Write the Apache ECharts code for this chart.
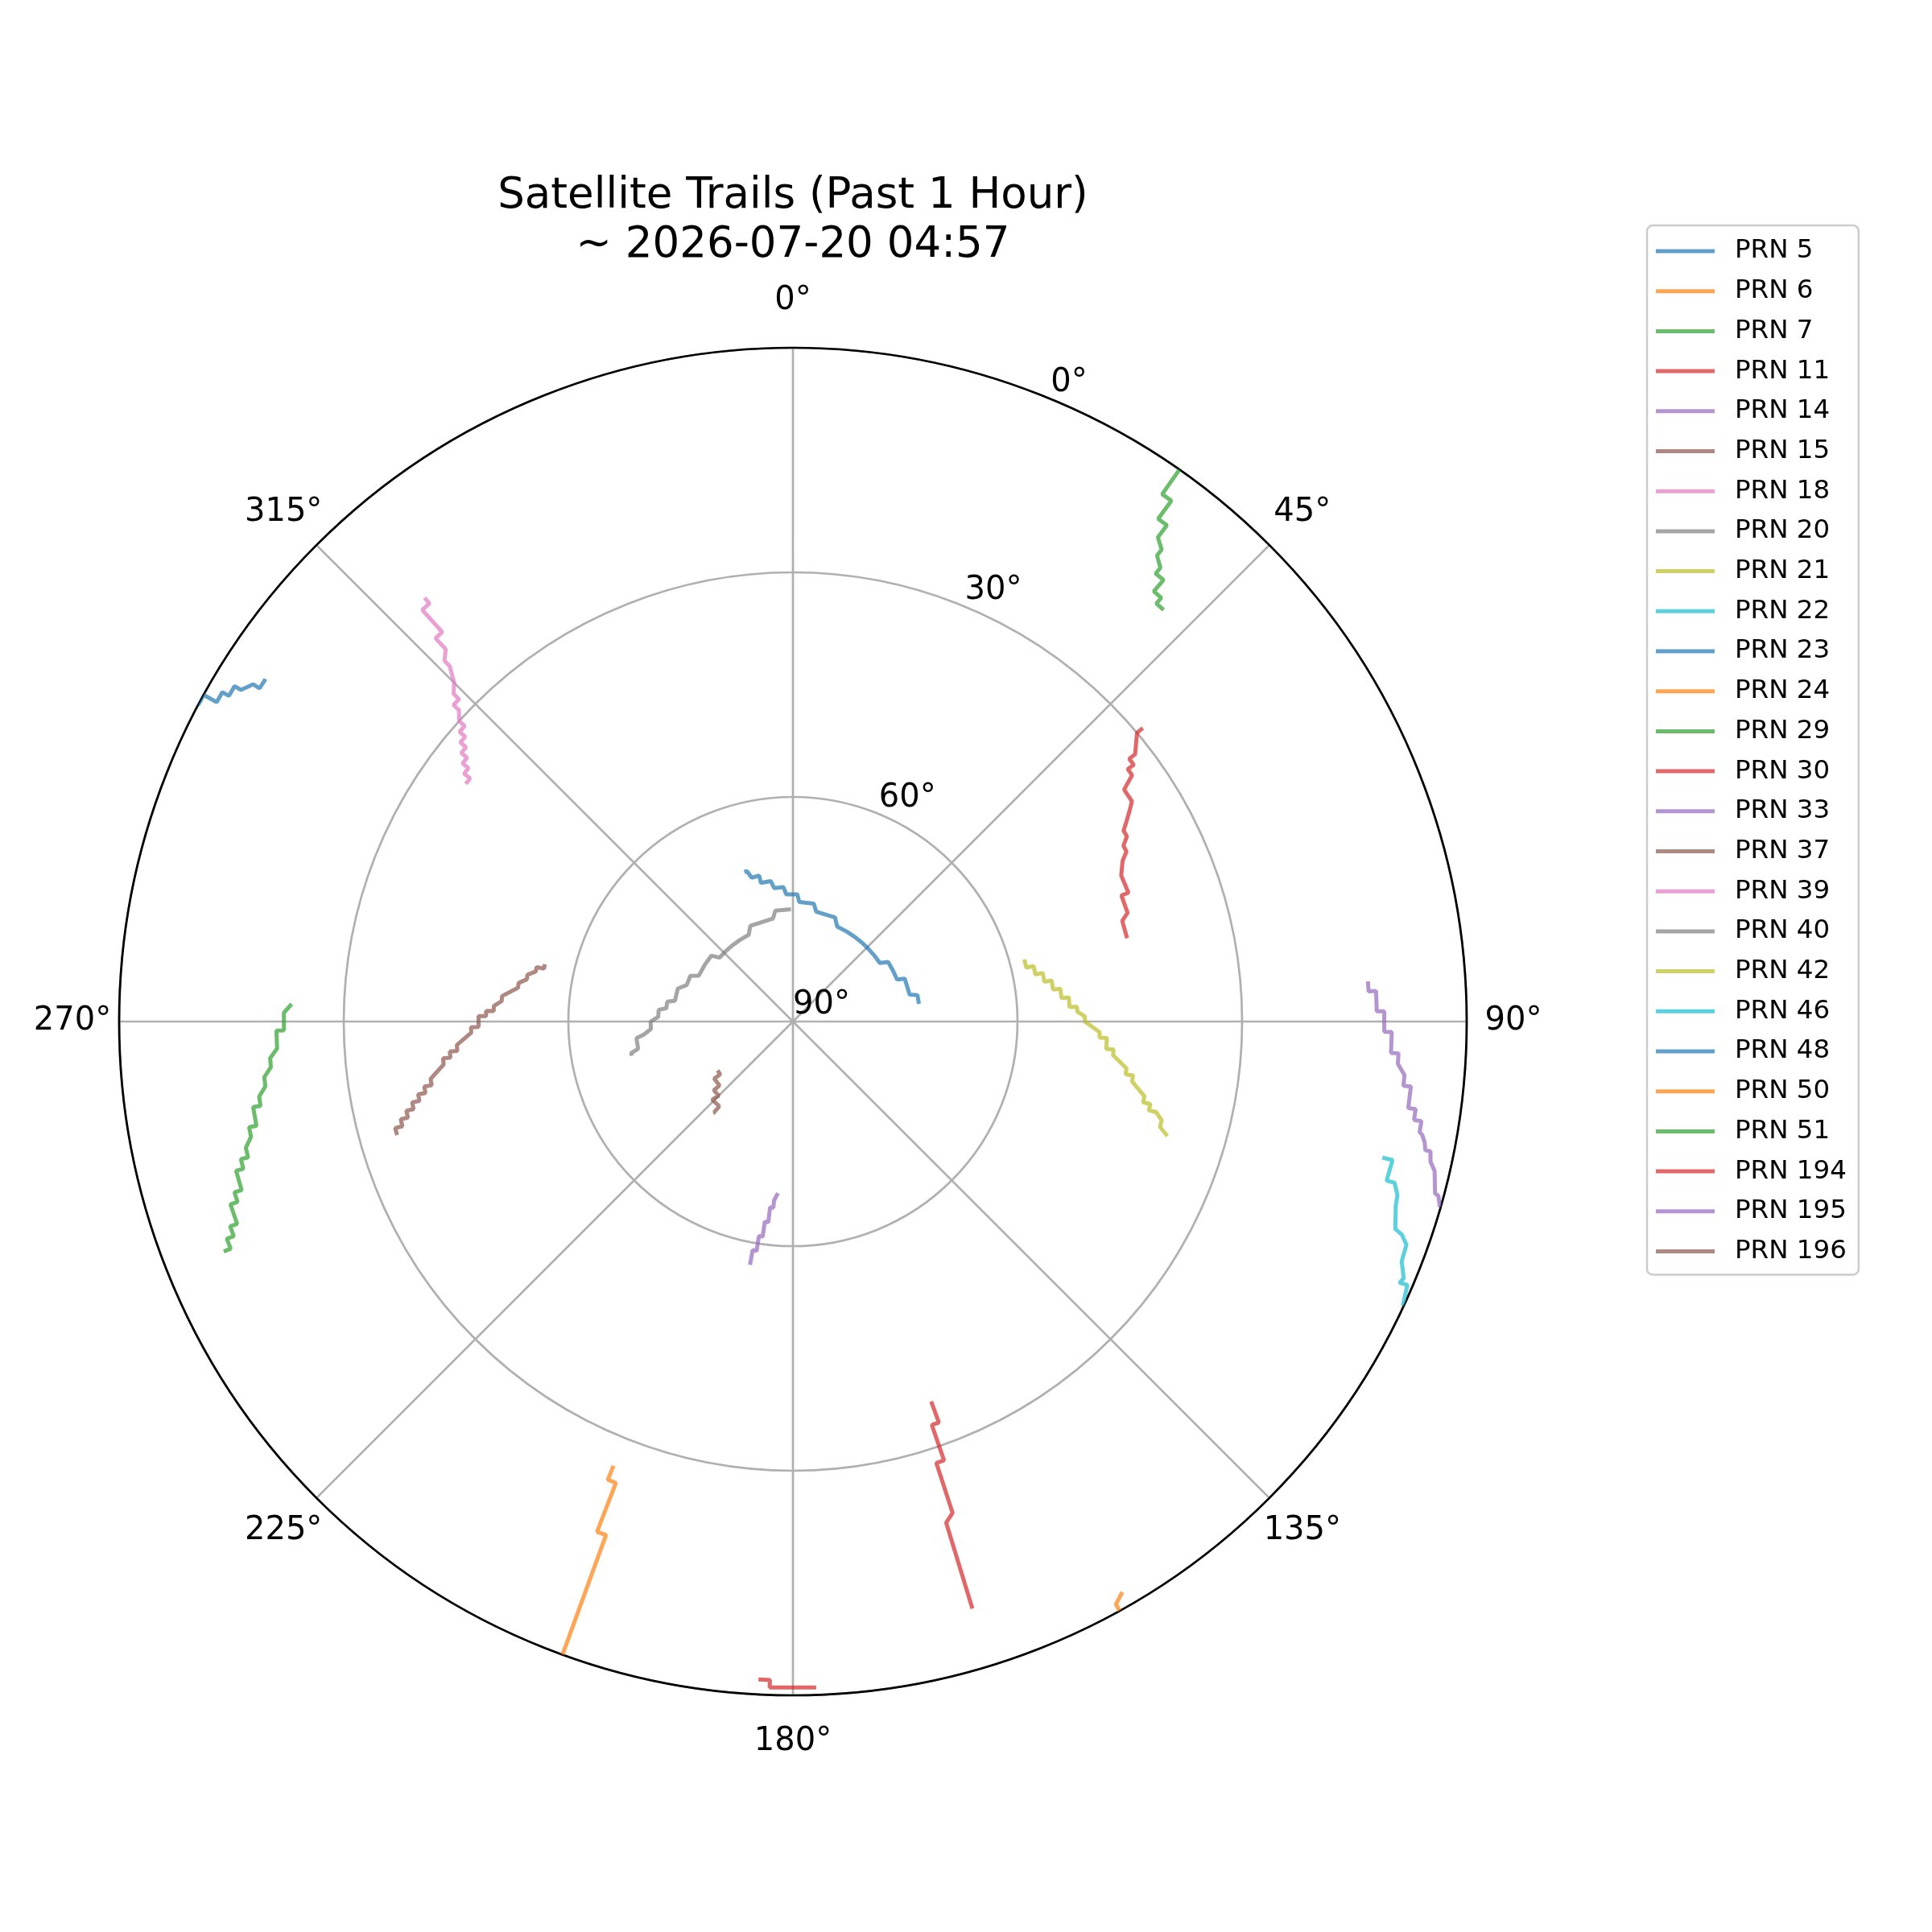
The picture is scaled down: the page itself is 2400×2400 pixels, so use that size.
<!DOCTYPE html>
<html><head><meta charset="utf-8">
<script src="https://cdn.jsdelivr.net/npm/echarts@6/dist/echarts.min.js"></script>
<style>html,body{margin:0;padding:0;background:#fff}#c{width:2400px;height:2400px}</style>
</head><body><div id="c"></div>
<script>
// ---- data: each trail is a list of [azimuth deg, elevation deg] ----
const prnNames = ['PRN 5','PRN 6','PRN 7','PRN 11','PRN 14','PRN 15','PRN 18','PRN 20','PRN 21','PRN 22','PRN 23','PRN 24','PRN 29','PRN 30','PRN 33','PRN 37','PRN 39','PRN 40','PRN 42','PRN 46','PRN 48','PRN 50','PRN 51','PRN 194','PRN 195','PRN 196'];
const prnColors = ['#1f77b4','#ff7f0e','#2ca02c','#d62728','#9467bd','#8c564b','#e377c2','#7f7f7f','#bcbd22','#17becf'];

const prn5 = [[342,69],[343,69],[344,70],[347,70],[347,71],[351,71],[352,72],[356,72],[357,73],[2,73],[3,74],[10,74],[12,75],[22,75],[25,76],[31,76],[36,76],[41,76],[45,76],[51,76],[56,76],[58,75],[63,75],[68,75],[69,74],[77,74],[78,73],[82,73]];
const prn6 = [[202,26],[202,24],[201,24],[201,17],[200,17],[200,0]];
const prn7 = [[35,0],[35,4],[36,4],[36,7],[37,7],[37,9],[38,10],[38,11],[39,12],[39,13],[40,13],[40,15],[41,15],[41,16],[42,16]];
const prn11 = [[50,29],[50,30],[52,32],[52,33],[53,33],[53,34],[54,34],[55,36],[57,36],[58,37],[59,38],[60,39],[61,39],[62,40],[63,40],[64,41],[66,42],[69,42],[69,43],[72,43],[73,44],[76,44]];
const prn14 = [[185,67],[186,66],[186,65],[187,65],[187,63],[188,63],[188,61],[189,61],[189,59],[190,59],[190,57]];
const prn15 = [[283,56],[282,56],[282,55],[281,55],[280,54],[279,54],[278,53],[277,53],[275,51],[274,51],[273,50],[272,50],[272,49],[271,49],[271,48],[269,48],[269,47],[268,47],[266,45],[265,45],[265,44],[264,44],[264,43],[263,43],[261,41],[260,41],[260,40],[259,40],[259,39],[258,39],[258,38],[257,38],[257,37],[256,37],[256,36],[255,36],[255,35],[254,35]];
const prn18 = [[319,15],[319,16],[318,16],[318,20],[317,20],[317,22],[316,23],[316,24],[315,26],[314,27],[314,28],[313,28],[313,29],[312,30],[312,31],[311,31],[311,32],[310,32],[310,33],[309,33],[309,34],[308,34],[308,35],[307,35],[307,36],[306,36]];
const prn20 = [[359,75],[351,75],[349,76],[336,76],[333,77],[327,77],[321,77],[316,77],[311,77],[309,76],[303,76],[296,76],[294,75],[289,75],[286,74],[280,74],[279,73],[276,73],[275,72],[272,72],[270,71],[267,71],[265,70],[264,69],[263,69],[260,69],[259,68],[258,68]];
const prn21 = [[75,58],[77,58],[77,57],[79,57],[79,56],[81,56],[81,55],[83,55],[83,54],[85,54],[85,53],[87,53],[87,52],[88,52],[89,51],[90,51],[92,49],[93,49],[93,48],[95,48],[95,47],[96,47],[98,45],[99,45],[99,44],[100,44],[102,42],[103,42],[103,41],[104,41],[104,40],[105,39],[106,39],[107,37.7]];
const prn22 = [[103,9.2],[103,7.8],[105,7.9],[105,6.8],[106,6],[107,5.8],[109,4.9],[109.3,3.8],[110,2.8],[111.5,2.6],[112.8,1.5],[113.3,1.8],[113.2,0.7],[114.2,0.4],[115,0.1]];
const prn23 = [[298,0],[299,0],[299,2],[300,2],[300,3],[301,3],[301,4],[302,5],[302,6],[303,6]];
const prn24 = [[150,2],[151,1],[151,0]];
const prn29 = [[272,23],[271,22],[269,22],[269,21],[267,21],[266,20],[265,20],[264,19],[263,19],[262,18],[261,18],[261,17],[259,17],[259,16],[258,16],[257,15],[256,15],[256,14],[255,14],[255,13],[253,13],[253,12],[252,12],[252,11],[250,11],[250,10],[249,10],[249,9],[248,9],[248,8]];
const prn30 = [[160,36],[160,33],[161,33],[161,28],[162,28],[162,21],[163,20],[163,8]];
const prn33 = [[86,13],[87,13],[87,12],[89,12],[89,11],[91,11],[91,10],[93,10],[93,9],[94,9],[95,8],[96,8],[96,7],[98,7],[98,6],[99,6],[99,5],[100,5],[100.2,4.6],[100.8,4.1],[101.5,3.8],[101.5,3.1],[102.4,2.8],[103.1,2],[105,1.2],[105.1,0.7],[106,0.1]];
const prn37 = [];
const prn39 = [];
const prn40 = [];
const prn42 = [];
const prn46 = [];
const prn48 = [];
const prn50 = [];
const prn51 = [];
const prn194 = [[183,2],[182,2],[182,1],[178,1]];
const prn195 = [];
const prn196 = [[237,78],[234,78],[234,77],[229,77],[229,76],[225,76],[226,75],[221,75],[221,74],[220,74]];

const trails = [prn5,prn6,prn7,prn11,prn14,prn15,prn18,prn20,prn21,prn22,prn23,prn24,prn29,prn30,prn33,prn37,prn39,prn40,prn42,prn46,prn48,prn50,prn51,prn194,prn195,prn196];

const titleText = 'Satellite Trails (Past 1 Hour)\n~ 2026-07-20 04:57';
const angleTickStep = 45;
const elevationTickStep = 30;

// ---- chart ----
const FONT = 'DejaVu Sans';
const CX = 985, CY = 1269, R = 837;
const labelFont = {fontFamily: FONT, fontSize: 40, lineHeight: 40, color: '#000'};
const pad = {
  a0: [0,0,100,0], a45: [0,0,59,14], a90: [0,0,0,34.6], a135: [59,0,0,1.3],
  a180: [100,0,0,0], a225: [59,1.3,0,0], a270: [0,21.8,0,0], a315: [0,1.3,59,0]
};
const rich = {};
Object.keys(pad).forEach(k => { rich[k] = Object.assign({padding: pad[k]}, labelFont); });

const series = trails.map((t, i) => ({
  name: prnNames[i],
  type: 'line',
  coordinateSystem: 'polar',
  polarIndex: 0,
  data: t.map(p => [p[1], p[0]]),
  symbol: 'none',
  showSymbol: false,
  lineStyle: {width: 5, color: prnColors[i % 10], opacity: 0.7},
  itemStyle: {color: prnColors[i % 10], opacity: 0.7},
  emphasis: {disabled: true},
  z: 5,
  animation: false
}));

const chart = echarts.init(document.getElementById('c'), null, {renderer: 'canvas'});
chart.setOption({
  backgroundColor: '#ffffff',
  animation: false,
  title: {
    text: titleText, left: CX, top: 214, textAlign: 'center', padding: 0,
    textStyle: {fontFamily: FONT, fontSize: 53, fontWeight: 'normal', color: '#000', lineHeight: 61}
  },
  legend: {
    orient: 'vertical', left: 2046, top: 280,
    padding: [14, 15, 11, 11],
    icon: 'rect',
    itemWidth: 73, itemHeight: 5, itemGap: 13.7,
    itemStyle: {opacity: 0.7, borderWidth: 0},
    borderColor: '#cccccc', borderWidth: 2.5, borderRadius: 7,
    backgroundColor: '#ffffff',
    textStyle: {fontFamily: FONT, fontSize: 32.5, lineHeight: 36, color: '#000', padding: [0,0,0,20]},
    data: prnNames,
    selectedMode: false
  },
  polar: [
    {center: [CX, CY], radius: R},
    {center: [CX, CY], radius: R}
  ],
  angleAxis: [
    {
      polarIndex: 0, type: 'value', min: 0, max: 360, interval: angleTickStep,
      startAngle: 90, clockwise: true, z: 3,
      axisLine: {show: true, lineStyle: {color: '#000', width: 2.7}},
      axisTick: {show: false},
      axisLabel: {
        show: true, margin: -12,
        formatter: v => (v >= 360 ? '' : '{a' + v + '|' + v + '°}'),
        rich: rich, fontFamily: FONT, fontSize: 40, color: '#000'
      },
      splitLine: {show: true, lineStyle: {color: '#b0b0b0', width: 2.7}}
    },
    {
      polarIndex: 1, type: 'value', min: 0, max: 360, interval: angleTickStep,
      startAngle: 67.5, clockwise: true, show: false
    }
  ],
  radiusAxis: [
    {
      polarIndex: 0, type: 'value', min: 0, max: 90, interval: elevationTickStep, inverse: true, z: 1,
      axisLine: {show: false}, axisTick: {show: false}, axisLabel: {show: false},
      splitLine: {show: true, lineStyle: {color: '#b0b0b0', width: 2.7}}
    },
    {
      polarIndex: 1, type: 'value', min: 0, max: 90, interval: elevationTickStep, inverse: true, z: 4,
      axisLine: {show: false}, axisTick: {show: false}, splitLine: {show: false},
      axisLabel: {
        show: true, margin: 0, align: 'left', verticalAlign: 'bottom',
        formatter: v => v + '°', fontFamily: FONT, fontSize: 40, color: '#000'
      }
    }
  ],
  series: series
});
</script></body></html>
